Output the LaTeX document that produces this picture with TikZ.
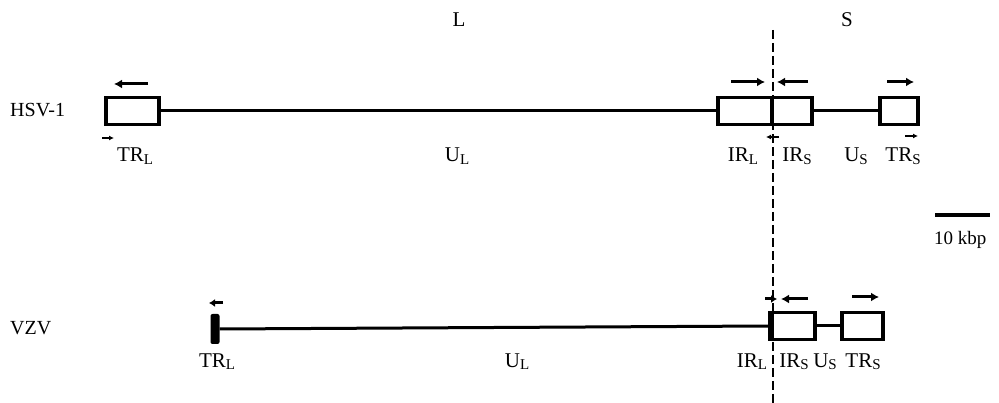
\documentclass[tikz,border=0pt]{standalone}
\usepackage{fontspec}
\setmainfont{Liberation Serif}
\usetikzlibrary{arrows.meta}
\newcommand{\sbl}[1]{\raisebox{-2.5pt}{\fontsize{15}{15}\selectfont #1}}
\begin{document}
\begin{tikzpicture}[x=1pt,y=-1pt,
  seg/.style={draw, line width=3.6pt, minimum height=27pt, inner sep=0pt},
  bar/.style={fill, rounded corners=2pt, minimum width=9pt, minimum height=30pt, inner sep=0pt},
  dna/.style={line width=3pt},
  lab/.style={font=\fontsize{21}{21}\selectfont, inner sep=0pt, anchor=base},
  lbl/.style={font=\fontsize{20}{20}\selectfont, inner sep=0pt, anchor=base west},
  bigarr/.style={line width=3pt, -{Latex[length=8pt,width=9pt]}},
  smallarr/.style={line width=1.4pt, -{Latex[length=5pt,width=5pt]}},
  dotarr/.style={line width=3pt, -{Latex[length=6pt,width=8pt]}},
  divide/.style={line width=2pt, dash pattern=on 9pt off 4pt}]
\useasboundingbox (0,0) rectangle (999,403);

% region labels
\node[lab] (L) at (459,27) {L};
\node[lab] (S) at (847,27) {S};
\coordinate (dtop) at (773,30);
\coordinate (dbot) at (773,403);
\draw[divide] (dtop) -- (dbot);

% ---------------- HSV-1 ----------------
\node[lbl] (hsv) at (10,117) {HSV-1};
\node[seg, minimum width=53pt] (trl) at (132.5,111) {};
\fill (trl.north west) rectangle ([xshift=4pt]trl.south west);
\node[seg, minimum width=54pt] (irl) at (745,111) {};
\node[seg, minimum width=40pt] (irs) at (792,111) {};
\node[seg, minimum width=38pt] (trs) at (899,111) {};
\fill (trs.north east) rectangle ([xshift=-4pt]trs.south east);
\draw[dna] (trl.east) -- (irl.west);
\draw[dna] (irs.east) -- (trs.west);

\coordinate (a1s) at (148,84); \coordinate (a1e) at (114,84);
\coordinate (a2s) at (731,82); \coordinate (a2e) at (765,82);
\coordinate (a3s) at (808,82); \coordinate (a3e) at (777,82);
\coordinate (a4s) at (887,82); \coordinate (a4e) at (914,82);
\draw[bigarr] (a1s) -- (a1e);
\draw[bigarr] (a2s) -- (a2e);
\draw[bigarr] (a3s) -- (a3e);
\draw[bigarr] (a4s) -- (a4e);
\coordinate (s1s) at (102,138); \coordinate (s1e) at (114,138);
\coordinate (s2s) at (779,137); \coordinate (s2e) at (766,137);
\coordinate (s3s) at (905,136); \coordinate (s3e) at (918,136);
\draw[smallarr] (s1s) -- (s1e);
\draw[smallarr] (s2s) -- (s2e);
\draw[smallarr] (s3s) -- (s3e);

\node[lab] (htrl) at (135,162) {TR\sbl{L}};
\node[lab] (hul)  at (457,162) {U\sbl{L}};
\node[lab] (hirl) at (743,162) {IR\sbl{L}};
\node[lab] (hirs) at (797,162) {IR\sbl{S}};
\node[lab] (hus)  at (856,162) {U\sbl{S}};
\node[lab] (htrs) at (903,162) {TR\sbl{S}};

% scale bar
\coordinate (sb1) at (935,215); \coordinate (sb2) at (990,215);
\draw[line width=4pt] (sb1) -- (sb2);
\node[font=\fontsize{19}{19}\selectfont, inner sep=0pt, anchor=base west] (kbp) at (934,245) {10 kbp};

% ---------------- VZV ----------------
\node[lbl] (vzv) at (10,335) {VZV};
\node[bar] (vtrl) at (215,329) {};
\node[seg, minimum width=45pt] (virs) at (792.5,326) {};
\fill (virs.north west) rectangle ([xshift=6pt]virs.south west);
\node[seg, minimum width=41pt] (vtrs) at (862.5,326) {};
\draw[dna] (vtrl.east) -- (virs.west);
\draw[dna] (virs.east) -- (vtrs.west);

\coordinate (v1s) at (223,303); \coordinate (v1e) at (209,303);
\coordinate (v2s) at (765,299); \coordinate (v2e) at (777,299);
\coordinate (v3s) at (808,299); \coordinate (v3e) at (781,299);
\coordinate (v4s) at (852,297); \coordinate (v4e) at (879,297);
\draw[dotarr] (v1s) -- (v1e);
\draw[dotarr] (v2s) -- (v2e);
\draw[bigarr] (v3s) -- (v3e);
\draw[bigarr] (v4s) -- (v4e);

\node[lab] (vtrlab) at (217,367) {TR\sbl{L}};
\node[lab] (vul)    at (517,367) {U\sbl{L}};
\node[lab] (virl)   at (752,367) {IR\sbl{L}};
\node[lab] (virsl)  at (794,367) {IR\sbl{S}};
\node[lab] (vus)    at (825,367) {U\sbl{S}};
\node[lab] (vtrsl)  at (863,367) {TR\sbl{S}};
\end{tikzpicture}
\end{document}
